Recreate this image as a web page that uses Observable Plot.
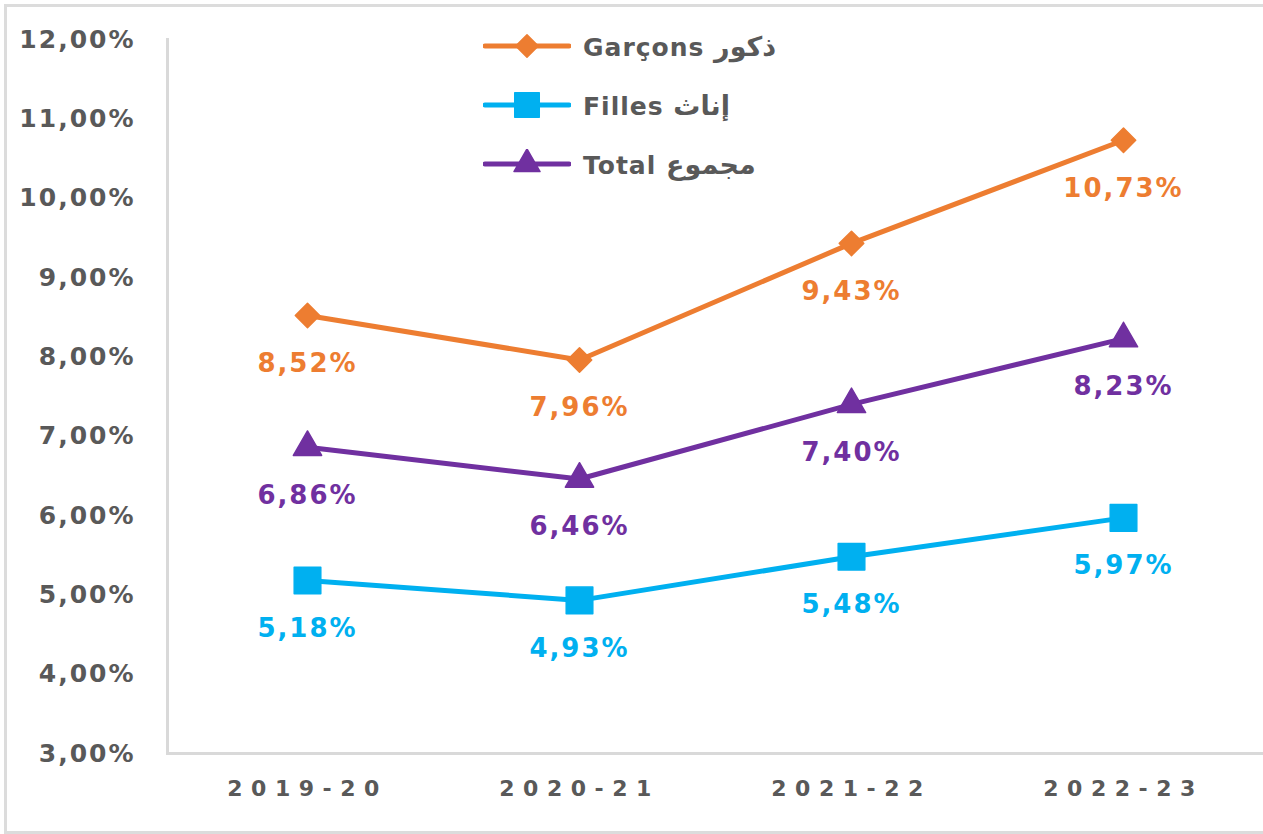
<!DOCTYPE html>
<html>
<head>
<meta charset="utf-8">
<script src="https://cdn.jsdelivr.net/npm/d3@7"></script>
<script src="https://cdn.jsdelivr.net/npm/@observablehq/plot@0.6"></script>
<style>
  html, body { margin: 0; padding: 0; background: #fff; overflow: hidden; }
  #wrap { position: relative; width: 1263px; height: 834px; }
  #border { position: absolute; left: 4px; top: 4px; width: 1300px; height: 830px;
    border: 3px solid #dcdcdc; border-right: none; box-sizing: border-box; }
  #chart { position: absolute; left: 0; top: 0; }
  #chart g[aria-label="x-axis tick label"] { letter-spacing: 8.5px; }
  #chart g[aria-label="y-axis tick label"] { letter-spacing: 2px; }
  #chart g[aria-label="text"] { letter-spacing: 2px; }
  #legend { position: absolute; left: 483px; top: 0; }
  .row { position: absolute; left: 0; height: 30px; display: flex; align-items: center; white-space: nowrap; }
  .row span.lbl { margin-left: 12px; font-family: "DejaVu Sans", sans-serif; font-weight: bold;
    font-size: 25px; color: #595959; letter-spacing: 1px; }
  .row span.ar { font-size: 27px; letter-spacing: 0; }
</style>
</head>
<body>
<div id="wrap">
  <div id="border"></div>
  <div id="chart"></div>
  <div id="legend"></div>
</div>
<script>
const years = ["2019-20", "2020-21", "2021-22", "2022-23"];
const garcons = [8.52, 7.96, 9.43, 10.73];
const filles = [5.18, 4.93, 5.48, 5.97];
const total = [6.86, 6.46, 7.40, 8.23];
const seriesKeys = ["Garçons", "Filles", "Total"];
const seriesArabic = ["ذكور", "إناث", "مجموع"];
const seriesColors = ["#ED7D31", "#00B0F0", "#7030A0"];
const seriesSymbols = ["diamond2", "square", "triangle"];
const seriesR = [11, 15, 10.5];
const yTicks = [3, 4, 5, 6, 7, 8, 9, 10, 11, 12];

const values = [garcons, filles, total];
const rows = [];
seriesKeys.forEach((s, i) => years.forEach((yr, j) => rows.push({series: s, year: yr, value: values[i][j]})));

const fmt = v => v.toFixed(2).replace(".", ",") + "%";

const plot = Plot.plot({
  width: 1263,
  height: 834,
  marginTop: 39,
  marginBottom: 81,
  marginLeft: 167,
  marginRight: 0,
  style: {background: "transparent", fontFamily: "DejaVu Sans, sans-serif", color: "#595959"},
  x: {type: "point", domain: years, padding: 0.5, insetLeft: 4, insetRight: 4},
  y: {domain: [3, 12]},
  color: {domain: seriesKeys, range: seriesColors},
  marks: [
    Plot.frame({anchor: "left", stroke: "#d9d9d9", strokeWidth: 3}),
    Plot.frame({anchor: "bottom", stroke: "#d9d9d9", strokeWidth: 3}),
    Plot.axisY({ticks: yTicks, tickSize: 0, tickPadding: 32, tickFormat: fmt, fontSize: 25, fontWeight: "bold", label: null}),
    Plot.axisX({tickSize: 0, tickPadding: 27, fontSize: 22, fontWeight: "bold", label: null}),
    Plot.line(rows, {x: "year", y: "value", z: "series", stroke: "series", strokeWidth: 5}),
    ...seriesKeys.map((s, i) => Plot.dot(rows.filter(d => d.series === s), {
      x: "year", y: "value", fill: "series", symbol: () => seriesSymbols[i], r: seriesR[i],
      stroke: "series", strokeWidth: 1.5, strokeLinejoin: "round"
    })),
    Plot.text(rows, {x: "year", y: "value", text: d => fmt(d.value), fill: "series", dy: 48, fontSize: 26, fontWeight: "bold"})
  ]
});
document.getElementById("chart").appendChild(plot);

// legend
const legend = document.getElementById("legend");
const symbolTypes = {diamond2: d3.symbolDiamond2, square: d3.symbolSquare, triangle: d3.symbolTriangle};
const rowCenters = [46, 105, 164];
seriesKeys.forEach((s, i) => {
  const row = document.createElement("div");
  row.className = "row";
  row.style.top = (rowCenters[i] - 15) + "px";
  const path = d3.symbol(symbolTypes[seriesSymbols[i]], Math.PI * seriesR[i] * seriesR[i] * 0.85)();
  row.innerHTML = `<svg width="88" height="30" viewBox="0 0 88 30">
    <line x1="2" y1="15" x2="86" y2="15" stroke="${seriesColors[i]}" stroke-width="5" stroke-linecap="round"/>
    <path transform="translate(44,15)" d="${path}" fill="${seriesColors[i]}" stroke="${seriesColors[i]}" stroke-width="1.5" stroke-linejoin="round"/>
  </svg><span class="lbl">${s} <span class="ar">${seriesArabic[i]}</span></span>`;
  legend.appendChild(row);
});
</script>
</body>
</html>
